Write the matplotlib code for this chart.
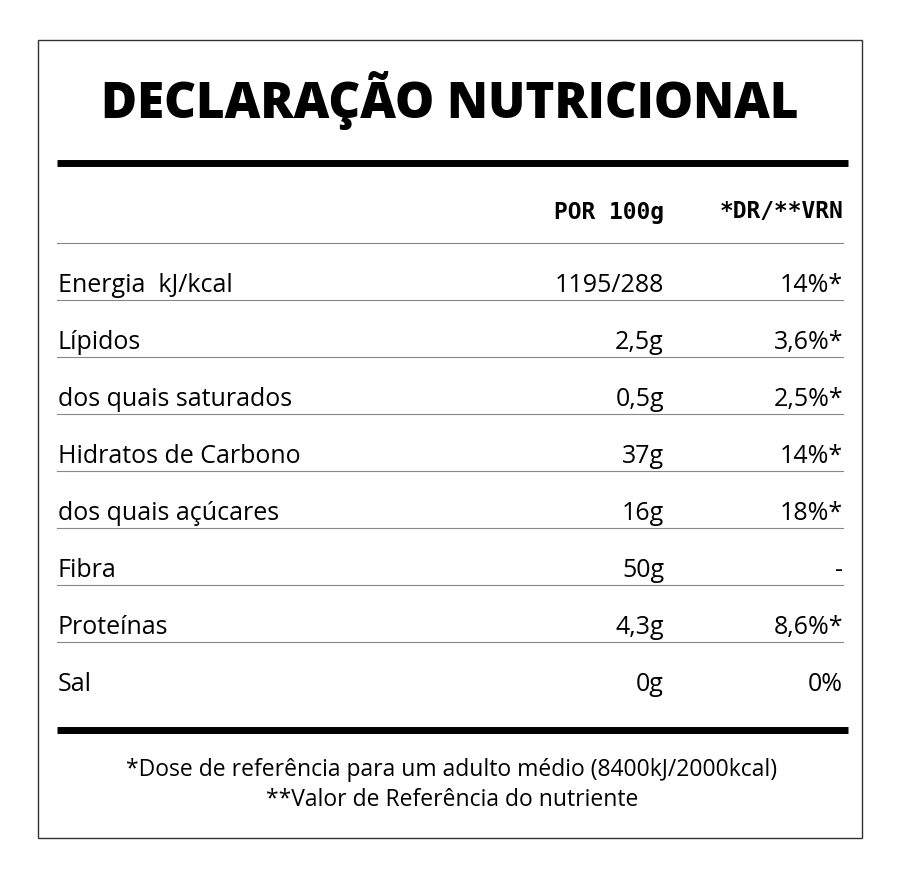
import matplotlib.pyplot as plt
from matplotlib.patches import Rectangle

title = "DECLARAÇÃO NUTRICIONAL"
headers = ["POR 100g", "*DR/**VRN"]
nutrients = ["Energia  kJ/kcal", "Lípidos", "dos quais saturados", "Hidratos de Carbono",
             "dos quais açúcares", "Fibra", "Proteínas", "Sal"]
per_100g = ["1195/288", "2,5g", "0,5g", "37g", "16g", "50g", "4,3g", "0g"]
dr_vrn = ["14%*", "3,6%*", "2,5%*", "14%*", "18%*", "-", "8,6%*", "0%"]
footnotes = ["*Dose de referência para um adulto médio (8400kJ/2000kcal)",
             "**Valor de Referência do nutriente"]

plt.rcParams['font.family'] = ['Open Sans', 'DejaVu Sans']

fig = plt.figure(figsize=(9, 8.76), dpi=100)
ax = fig.add_axes([0, 0, 1, 1])
ax.set_xlim(0, 900)
ax.set_ylim(876, 0)
ax.axis("off")

# moldura
ax.add_patch(Rectangle((38, 40), 824, 798, fill=False, lw=1, ec="#333333"))

ax.text(450, 100, title, ha="center", va="center", fontsize=35.5, fontweight="heavy")
ax.plot([57, 848], [163, 163], color="black", lw=5, solid_capstyle="butt")

for x, h in zip([664, 843], headers):
    ax.text(x, 212, h, ha="right", va="center", fontsize=16.5, fontweight="bold",
            family=["DejaVu Sans Mono", "DejaVu Sans"])

row_top = 243
row_h = 57
for i, (name, v1, v2) in enumerate(zip(nutrients, per_100g, dr_vrn)):
    y0 = row_top + i * row_h
    ax.plot([57, 843], [y0, y0], color="#888888", lw=0.8)
    yc = y0 + row_h * 0.75
    ax.text(58, yc, name, ha="left", va="center", fontsize=18, fontweight="medium")
    ax.text(664, yc, v1, ha="right", va="center", fontsize=18, fontweight="medium")
    ax.text(843, yc, v2, ha="right", va="center", fontsize=18, fontweight="medium")

ax.plot([57, 848], [730, 730], color="black", lw=5, solid_capstyle="butt")

ax.text(452, 770, footnotes[0], ha="center", va="center", fontsize=16.5)
ax.text(452, 800, footnotes[1], ha="center", va="center", fontsize=16.5)

fig.savefig("out.png", dpi=100, facecolor="white")
